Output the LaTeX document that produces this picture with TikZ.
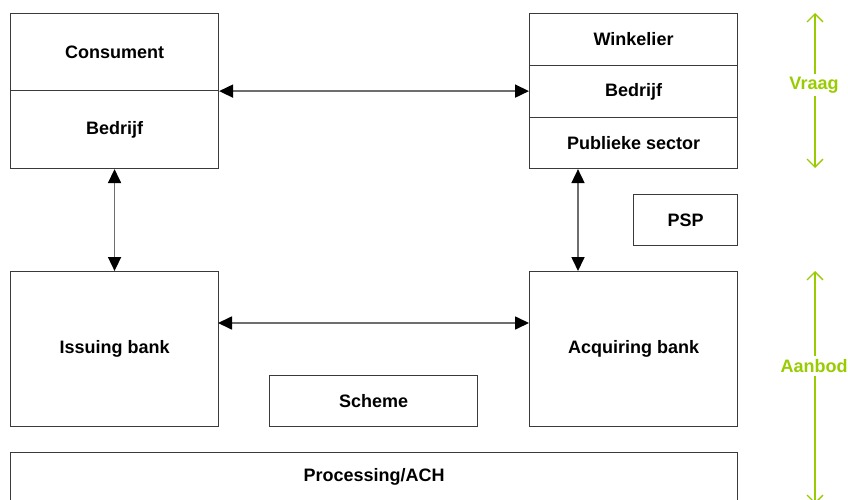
\documentclass[tikz,border=0pt]{standalone}
\usepackage{fontspec}
\setmainfont{Liberation Sans}
\usetikzlibrary{arrows.meta,positioning}
\definecolor{lime}{HTML}{99CC00}
\definecolor{boxline}{HTML}{3A3A3A}
\definecolor{linkline}{HTML}{6E6E6E}
\begin{document}
\begin{tikzpicture}[x=1pt,y=-1pt,
  box/.style={draw=boxline,line width=1.1pt,rectangle,inner sep=0pt,anchor=north west,
    font=\fontsize{18}{20}\selectfont\bfseries},
  link/.style={draw=linkline,line width=1.7pt,
    {Triangle[length=14pt,width=13pt,fill=black,color=black]}-{Triangle[length=14pt,width=13pt,fill=black,color=black]}},
  span/.style={draw=lime,line width=1.3pt,
    {Straight Barb[length=8pt,width=16pt]}-{Straight Barb[length=8pt,width=16pt]}},
  spanlabel/.style={fill=white,text=lime,inner sep=3pt,font=\fontsize{18}{20}\selectfont\bfseries}]
\useasboundingbox (0,0) rectangle (848,500);
\clip (0,0) rectangle (848,500);

% demand side: consumers and merchants
\node[box,minimum width=208pt,minimum height=77pt] (cons) at (10,13) {Consument};
\node[box,minimum width=208pt,minimum height=78pt] (cbed) at (10,90) {Bedrijf};
\node[box,minimum width=208pt,minimum height=52pt] (wink) at (529,13) {Winkelier};
\node[box,minimum width=208pt,minimum height=52pt] (wbed) at (529,65) {Bedrijf};
\node[box,minimum width=208pt,minimum height=51pt] (pub) at (529,117) {Publieke sector};
\node[box,minimum width=104pt,minimum height=51pt] (psp) at (633,194) {PSP};

% supply side: banks, scheme and processing
\node[box,minimum width=208pt,minimum height=155pt] (iss) at (10,271) {Issuing bank};
\node[box,minimum width=208pt,minimum height=155pt] (acq) at (529,271) {Acquiring bank};
\node[box,minimum width=208pt,minimum height=51pt] (sch) at (269,375) {Scheme};
\node[box,minimum width=727pt,minimum height=49pt] (proc) at (10,452) {Processing/ACH};

% links between the parties
\coordinate (rv) at (578,0);
\coordinate (low) at (0,323);
\draw[link] (cons.south east) -- (cons.south east -| wbed.west);
\draw[link] (cbed.south) -- (iss.north);
\draw[link] (pub.south -| rv) -- (acq.north -| rv);
\draw[link] (iss.west |- low) ++(208,0) coordinate (issr) -- (issr -| acq.west);

% demand / supply spans
\coordinate (vtop) at (815,13);
\coordinate (vbot) at (815,168);
\coordinate (atop) at (815,271);
\coordinate (abot) at (815,504);
\draw[span] (vtop) -- (vbot);
\node[spanlabel] (vraag) at (814,85) {Vraag};
\draw[span] (atop) -- (abot);
\node[spanlabel] (aanbod) at (814,366) {Aanbod};
\end{tikzpicture}
\end{document}
